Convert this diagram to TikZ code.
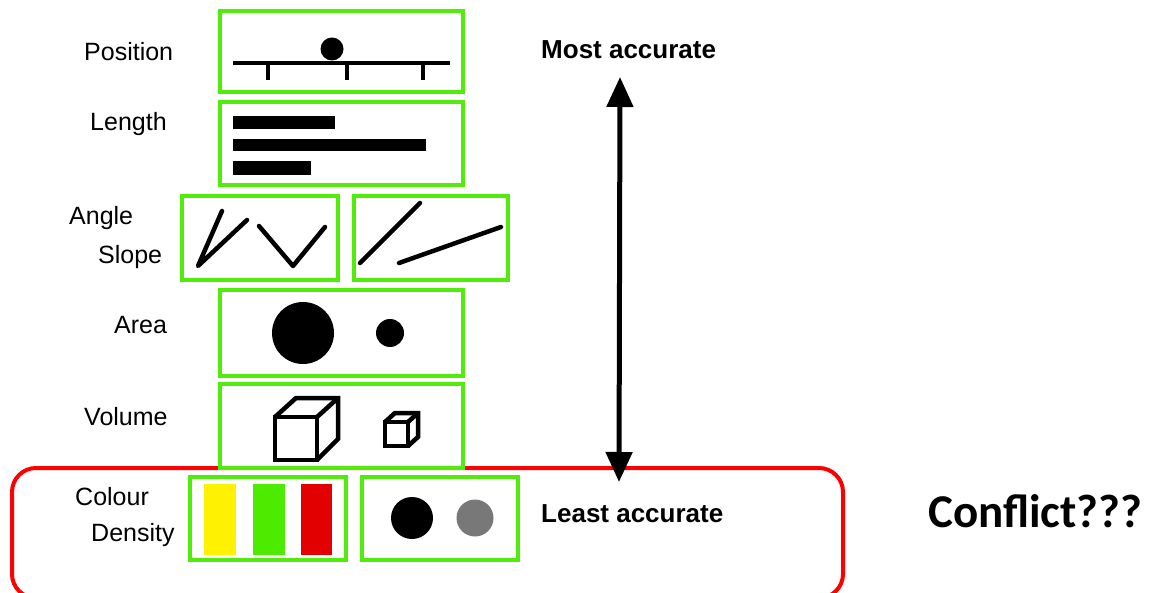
\documentclass[tikz,border=0pt]{standalone}
\usepackage{fontspec}
\setmainfont{Liberation Sans}
\newfontfamily\calib{Carlito}
\usetikzlibrary{arrows.meta}
\definecolor{boxgreen}{RGB}{80,236,10}
\definecolor{fillgreen}{RGB}{76,235,0}
\definecolor{fillred}{RGB}{226,0,0}
\definecolor{dotgray}{RGB}{120,120,120}
\tikzset{
  gbox/.style={draw=boxgreen, line width=4pt, inner sep=0pt},
  lbl/.style={anchor=base west, inner sep=0pt, font=\fontsize{25}{29}\selectfont},
  blbl/.style={anchor=base west, inner sep=0pt, font=\fontsize{26}{30}\selectfont\bfseries},
  glyph/.style={line width=4.5pt, line cap=round, line join=round},
  cube/.style={line width=4.5pt, line join=miter},
}
\begin{document}
\begin{tikzpicture}[x=1pt,y=-1pt]
\useasboundingbox (0,0) rectangle (1150,593);
\begin{scope}
\clip (0,0) rectangle (1150,593);
% red frame
\node[draw=red, line width=4pt, rounded corners=24pt, minimum width=831pt, minimum height=130pt, inner sep=0pt] (conflictframe) at (427.5,533) {};
\end{scope}

% green boxes
\node[gbox, minimum width=243pt, minimum height=81pt] (pos) at (341.5,51.5) {};
\node[gbox, minimum width=243pt, minimum height=83pt] (len) at (341.5,143.5) {};
\node[gbox, minimum width=156pt, minimum height=84pt] (ang) at (260,238) {};
\node[gbox, minimum width=154pt, minimum height=84pt] (slo) at (431,238) {};
\node[gbox, minimum width=243pt, minimum height=86pt] (are) at (341.5,333) {};
\node[gbox, minimum width=243pt, minimum height=84pt] (vol) at (341.5,426) {};
\node[gbox, minimum width=156pt, minimum height=83pt] (col) at (268,518.5) {};
\node[gbox, minimum width=156pt, minimum height=83pt] (den) at (440,518.5) {};

% position glyph
\draw[line width=4.5pt] (233,63) -- (450,63);
\foreach \t in {268,347,423} \draw[line width=3.5pt] (\t,63) -- (\t,80);
\fill (332,49) circle (11.5);

% length bars
\fill (233,116) rectangle (335,129);
\fill (233,139) rectangle (426,151);
\fill (233,161) rectangle (311,175);

% angle glyphs
\draw[glyph] (222,211) -- (198,266) -- (247,220);
\draw[glyph] (259,226) -- (293,266) -- (325,227);
% slope glyphs
\draw[glyph] (360,263) -- (420,203);
\draw[glyph] (399,263) -- (501,227);

% area
\fill (303,333) circle (31);
\fill (390,333) circle (14);

% volume cubes
\draw[cube] (275,417) rectangle (317,460);
\draw[cube] (275,417) -- (296,398) -- (338,398) -- (338,439) -- (317,460);
\draw[cube] (317,417) -- (338,398);
\draw[cube] (385,422) rectangle (408,446);
\draw[cube] (385,422) -- (395,413) -- (418,413) -- (418,437) -- (408,446);
\draw[cube] (408,422) -- (418,413);

% colour bars
\fill[yellow] (204,484) rectangle (236,555);
\fill[fillgreen] (253,484) rectangle (285,555);
\fill[fillred] (301,484) rectangle (332,555);

% density dots
\fill (412,518) circle (21);
\fill[dotgray] (475,518) circle (18.5);

% labels
\node[lbl] (tpos) at (84,61) {Position};
\node[lbl] (tlen) at (90,131) {Length};
\node[lbl] (tang) at (69,225) {Angle};
\node[lbl] (tslo) at (98,264) {Slope};
\node[lbl] (tare) at (114,334) {Area};
\node[lbl] (tvol) at (84,425) {Volume};
\node[lbl] (tcol) at (75,505) {Colour};
\node[lbl] (tden) at (91,541) {Density};

\node[blbl] (most) at (541,59) {Most accurate};
\node[blbl] (least) at (541,522) {Least accurate};
\node[anchor=base west, inner sep=0pt, font=\calib\bfseries\fontsize{47}{51}\selectfont] (confl) at (928,527) {Conflict???};

% accuracy arrow
\coordinate (atop) at (620,77);
\coordinate (abot) at (619,482);
\draw[line width=5pt, {Triangle[length=30pt,width=26pt]}-{Triangle[length=30pt,width=26pt]}] (atop) -- (abot);
\end{tikzpicture}
\end{document}
